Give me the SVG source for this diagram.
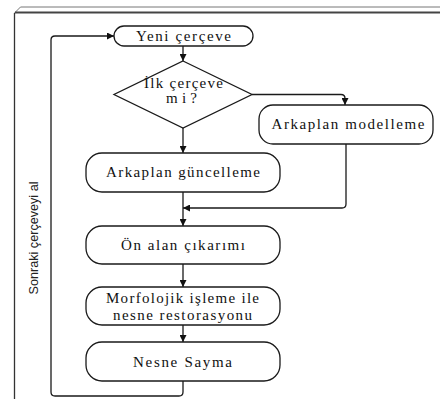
<svg xmlns="http://www.w3.org/2000/svg" width="440" height="399" viewBox="0 0 440 399">
<style>
.box{fill:#fff;stroke:#1a1a1a;stroke-width:1.3}
.ln{fill:none;stroke:#1a1a1a;stroke-width:1.3}
.t{font-family:'Liberation Serif','Times New Roman',serif;font-size:15px;fill:#111;text-anchor:middle}
.s{font-family:'Liberation Sans',Arial,sans-serif;font-size:12px;fill:#222;text-anchor:middle}
</style>
<defs>
<marker id="ah" viewBox="0 0 10 10" refX="10" refY="5" markerWidth="7" markerHeight="7" markerUnits="userSpaceOnUse" orient="auto">
<path d="M0,0 L10,5 L0,10 z" fill="#111"/>
</marker>
</defs>
<rect width="440" height="399" fill="#fff"/>
<g id="frame">
<path d="M14.5,399 L14.5,13 L20.5,7 L440,7" fill="none" stroke="#777" stroke-width="1"/>
<line x1="15" y1="12.5" x2="440" y2="12.5" stroke="#444" stroke-width="2"/>
<line x1="14.5" y1="13" x2="14.5" y2="399" stroke="#333" stroke-width="1.3"/>
</g>
<g id="connectors">
<line class="ln" x1="183" y1="46" x2="183" y2="61" marker-end="url(#ah)"/>
<path class="ln" d="M252,94.5 L341,94.5 Q345,94.5 345,98.5 L345,105" marker-end="url(#ah)"/>
<line class="ln" x1="183" y1="128" x2="183" y2="153" marker-end="url(#ah)"/>
<line class="ln" x1="183" y1="192" x2="183" y2="226" marker-end="url(#ah)"/>
<path class="ln" d="M346,144 L346,204 Q346,208 342,208 L183,208" marker-end="url(#ah)"/>
<line class="ln" x1="183" y1="264" x2="183" y2="287" marker-end="url(#ah)"/>
<line class="ln" x1="183" y1="325" x2="183" y2="342" marker-end="url(#ah)"/>
<path class="ln" d="M183,381 L183,392 Q183,396 179,396 L55,396 Q51,396 51,392 L51,40 Q51,36 55,36 L114,36" marker-end="url(#ah)"/>
</g>
<g id="yeni">
<rect class="box" x="114" y="26" width="139" height="20" rx="10"/>
<text class="t" x="183.5" y="40.5" textLength="95" lengthAdjust="spacing">Yeni çerçeve</text>
</g>
<g id="ilk">
<polygon class="box" points="183,61 252,94.5 183,128 114,94.5"/>
<text class="t" x="183.5" y="88" font-size="13" textLength="79" lengthAdjust="spacing">İlk çerçeve</text>
<text class="t" x="181.5" y="103" font-size="13" textLength="31" lengthAdjust="spacing">mi?</text>
</g>
<g id="modelleme">
<rect class="box" x="259" y="105" width="174" height="39" rx="14"/>
<text class="t" x="348" y="128.5" textLength="153" lengthAdjust="spacing">Arkaplan modelleme</text>
</g>
<g id="guncelleme">
<rect class="box" x="86" y="153" width="194" height="39" rx="16"/>
<text class="t" x="183" y="177" textLength="154" lengthAdjust="spacing">Arkaplan güncelleme</text>
</g>
<g id="onalan">
<rect class="box" x="86" y="226" width="194" height="38" rx="16"/>
<text class="t" x="183" y="250" textLength="124" lengthAdjust="spacing">Ön alan çıkarımı</text>
</g>
<g id="morfolojik">
<rect class="box" x="86" y="287" width="194" height="38" rx="16"/>
<text class="t" x="182.5" y="302.5" textLength="153" lengthAdjust="spacing">Morfolojik işleme ile</text>
<text class="t" x="182.5" y="320" textLength="139" lengthAdjust="spacing">nesne restorasyonu</text>
</g>
<g id="sayma">
<rect class="box" x="86" y="342" width="194" height="39" rx="16"/>
<text class="t" x="182.5" y="366.5" textLength="99" lengthAdjust="spacing">Nesne Sayma</text>
</g>
<g id="sonraki">
<text class="s" transform="translate(38,238) rotate(-90)" x="0" y="0" textLength="113" lengthAdjust="spacingAndGlyphs">Sonraki çerçeveyi al</text>
</g>
</svg>
